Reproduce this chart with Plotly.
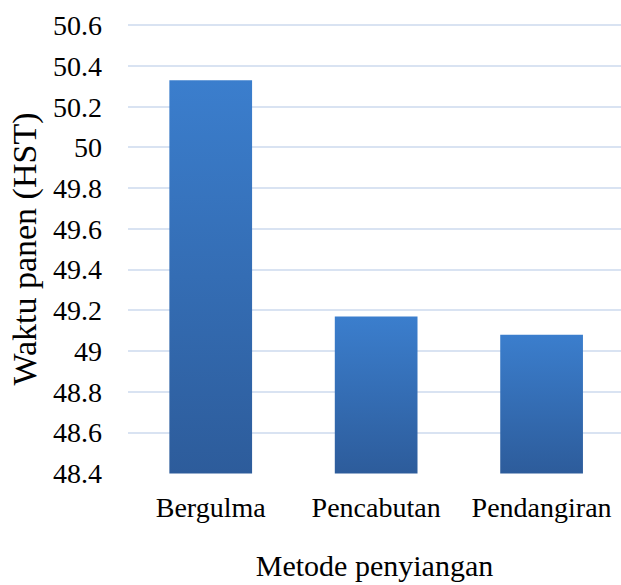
import plotly.graph_objects as go

categories = ["Bergulma", "Pencabutan", "Pendangiran"]
values = [50.33, 49.17, 49.08]
y_ticks = [48.4, 48.6, 48.8, 49.0, 49.2, 49.4, 49.6, 49.8, 50.0, 50.2, 50.4, 50.6]
y_tick_labels = ["48.4", "48.6", "48.8", "49", "49.2", "49.4", "49.6", "49.8", "50", "50.2", "50.4", "50.6"]

base = y_ticks[0]
half = 0.25
font_family = "Liberation Serif"

fig = go.Figure()
for i, (cat, v) in enumerate(zip(categories, values)):
    fig.add_trace(go.Scatter(
        x=[i - half, i - half, i + half, i + half, i - half],
        y=[base, v, v, base, base],
        mode="lines",
        line=dict(width=0, color="rgba(0,0,0,0)"),
        fill="toself",
        fillgradient=dict(type="vertical", colorscale=[[0, "#2d5c9b"], [1, "#3b7ecd"]],
                          start=base, stop=v),
        name=cat,
        hoverinfo="text",
        text=f"{cat}: {v}",
        showlegend=False,
    ))

fig.update_layout(
    width=621, height=585,
    margin=dict(l=128, r=0, t=24, b=111),
    paper_bgcolor="white", plot_bgcolor="white",
    font=dict(family=font_family, size=28, color="black"),
    xaxis=dict(
        range=[-0.5, 2.48],
        tickmode="array", tickvals=list(range(len(categories))), ticktext=categories,
        tickfont=dict(family=font_family, size=28, color="black"),
        showgrid=False, zeroline=False, showline=False, ticks="",
        ticklabelstandoff=14, automargin=False,
        title=dict(text="Metode penyiangan", font=dict(size=30, family=font_family, color="black"), standoff=32),
    ),
    yaxis=dict(
        range=[base - 0.003, y_ticks[-1] + 0.006],
        tickmode="array", tickvals=y_ticks, ticktext=y_tick_labels,
        tickfont=dict(family=font_family, size=28, color="black"),
        showgrid=True, gridcolor="#d9e3f2", gridwidth=2, zeroline=False, showline=False, ticks="",
        ticklabelstandoff=25, automargin=False,
        title=dict(text="Waktu panen (HST)", font=dict(size=34, family=font_family, color="black"), standoff=6),
    ),
)

fig.write_html("out.html", config={"displayModeBar": False},
               post_script="document.body.style.margin='0';document.body.style.overflow='hidden';")
